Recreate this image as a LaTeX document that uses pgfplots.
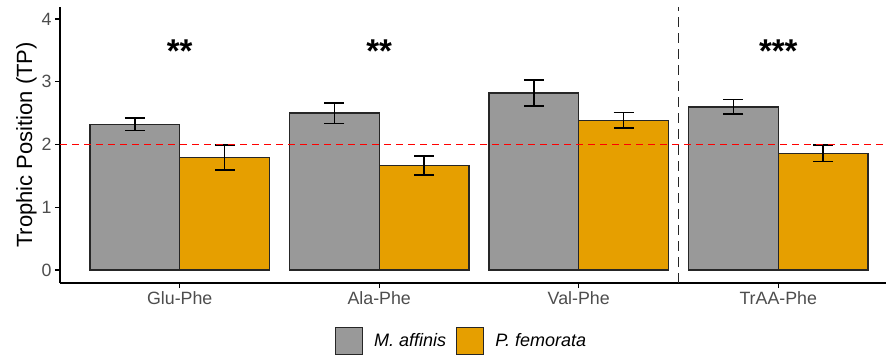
\documentclass[border=0pt]{standalone}
\usepackage{pgfplots}
\pgfplotsset{compat=1.18}
\usepackage{fontspec}
\setmainfont{Liberation Sans}
\definecolor{bargray}{HTML}{999999}
\definecolor{barorange}{HTML}{E69F00}
\definecolor{ticklab}{HTML}{4D4D4D}
\begin{document}
\begin{tikzpicture}[x=1pt,y=1pt]
\useasboundingbox (0,0) rectangle (886,356);
\begin{axis}[
  at={(60pt,73pt)}, anchor=south west,
  scale only axis, width=826pt, height=276pt,
  xmin=0.4, xmax=4.54, ymin=-0.207, ymax=4.19,
  axis x line=bottom, axis y line=left,
  axis line style={-, line width=1.4pt, black},
  xtick={1,2,3,4}, xticklabels={Glu-Phe,Ala-Phe,Val-Phe,TrAA-Phe},
  ytick={0,1,2,3,4},
  tick style={black, line width=1.3pt},
  tick align=outside, major tick length=5pt,
  ticklabel style={font=\fontsize{17.8}{19}\selectfont, text=ticklab},
  /pgf/number format/assume math mode=true,
  ylabel={Trophic Position (TP)},
  ylabel style={font=\fontsize{22}{24}\selectfont, black, yshift=-2pt},
  ybar, bar width=0.45,
  legend columns=2,
  legend style={at={(0.486,-0.21)}, anchor=center, draw=none,
    font=\fontsize{18}{20}\selectfont\itshape,
    /tikz/every odd column/.append style={column sep=9pt},
    /tikz/every even column/.append style={column sep=8pt}},
  legend image code/.code={\draw[#1, line width=1.3pt] (0pt,-13.5pt) rectangle (27pt,13.5pt);},
]
\addplot[fill=bargray, draw=black!85, line width=1.4pt, bar shift=-0.225,
  error bars/.cd, y dir=both, y explicit, error mark=|,
  error bar style={line width=1.6pt, black},
  error mark options={line width=1.6pt, black, mark size=10pt}]
  coordinates {(1,2.32) +- (0,0.10) (2,2.50) +- (0,0.165) (3,2.82) +- (0,0.21) (4,2.60) +- (0,0.115)};
\addlegendentry{M. affinis}
\addplot[fill=barorange, draw=black!85, line width=1.4pt, bar shift=0.225,
  error bars/.cd, y dir=both, y explicit, error mark=|,
  error bar style={line width=1.6pt, black},
  error mark options={line width=1.6pt, black, mark size=10pt}]
  coordinates {(1,1.79) +- (0,0.20) (2,1.665) +- (0,0.155) (3,2.385) +- (0,0.125) (4,1.86) +- (0,0.13)};
\addlegendentry{P. femorata}
\addplot[sharp plot, forget plot, red, line width=1.6pt, dash pattern=on 7pt off 5pt] coordinates {(0.4,2) (4.54,2)};
\addplot[sharp plot, forget plot, black!85, line width=1.5pt, dash pattern=on 10pt off 6pt] coordinates {(3.5,-0.207) (3.5,4.19)};
\node[anchor=base] at (axis cs:1,3.31) {\fontsize{33}{36}\selectfont\bfseries **};
\node[anchor=base] at (axis cs:2,3.31) {\fontsize{33}{36}\selectfont\bfseries **};
\node[anchor=base] at (axis cs:4,3.31) {\fontsize{33}{36}\selectfont\bfseries ***};
\end{axis}
\end{tikzpicture}
\end{document}
